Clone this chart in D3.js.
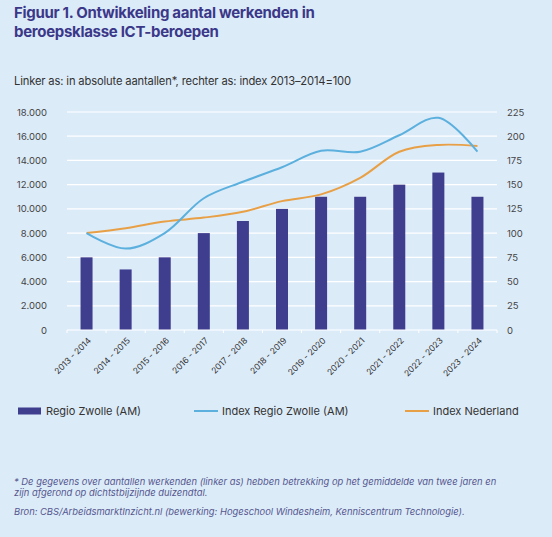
<!DOCTYPE html>
<html>
<head>
<meta charset="utf-8">
<script src="https://cdn.jsdelivr.net/npm/d3@7"></script>
<style>
  html, body { margin: 0; padding: 0; background: #dcebf8; }
  svg { display: block; font-family: "Inter", "Noto Sans", sans-serif; }
</style>
</head>
<body>
<div id="chart"></div>
<script>
// chart data
const periods = ["2013 - 2014", "2014 - 2015", "2015 - 2016", "2016 - 2017", "2017 - 2018",
  "2018 - 2019", "2019 - 2020", "2020 - 2021", "2021 - 2022", "2022 - 2023", "2023 - 2024"];
const werkenden = [6000, 5000, 6000, 8000, 9000, 10000, 11000, 11000, 12000, 13000, 11000];
const indexZwolle = [100, 84, 100, 136, 153, 168, 185, 184, 201, 219, 184];
const indexNederland = [100, 105, 112, 116, 122, 133, 140, 157, 184, 191, 190];
const leftTicks = [0, 2000, 4000, 6000, 8000, 10000, 12000, 14000, 16000, 18000];
const rightTicks = [0, 25, 50, 75, 100, 125, 150, 175, 200, 225];

const W = 552, H = 537;
const margin = { left: 67, right: 55, top: 112, bottom: 207 };
const plotW = W - margin.left - margin.right;
const plotH = H - margin.top - margin.bottom;

const barColor = "#3f3d8e";
const blueColor = "#5cb0de";
const orangeColor = "#e8a047";

const svg = d3.select("#chart").append("svg")
  .attr("width", W)
  .attr("height", H);

svg.append("rect").attr("width", W).attr("height", H).attr("fill", "#dcebf8");

// titles
const title = svg.append("text")
  .attr("x", 14).attr("y", 18)
  .style("font-size", "15px")
  .style("font-weight", "700")
  .style("letter-spacing", "-0.3px")
  .style("fill", "#3b3889");
title.append("tspan").attr("x", 14).text("Figuur 1. Ontwikkeling aantal werkenden in");
title.append("tspan").attr("x", 14).attr("dy", 19).text("beroepsklasse ICT-beroepen");

svg.append("text")
  .attr("x", 14).attr("y", 85)
  .style("font-size", "11.2px")
  .style("letter-spacing", "-0.15px")
  .style("fill", "#333")
  .text("Linker as: in absolute aantallen*, rechter as: index 2013–2014=100");

const g = svg.append("g").attr("transform", `translate(${margin.left},${margin.top})`);

// scales
const x = d3.scaleBand(periods, [0, plotW]).padding(0);
const yLeft = d3.scaleLinear([0, 18000], [plotH, 0]);
const yRight = d3.scaleLinear([0, 225], [plotH, 0]);

// grid lines
g.selectAll(".grid")
  .data(leftTicks.slice(1))
  .enter().append("line")
  .attr("x1", 0).attr("x2", plotW)
  .attr("y1", d => yLeft(d)).attr("y2", d => yLeft(d))
  .attr("stroke", "#ffffff")
  .attr("stroke-width", 1.2);

// left axis labels
const fmt = d => d3.format(",")(d).replace(/,/g, ".");
g.append("g")
  .call(d3.axisLeft(yLeft).tickValues(leftTicks).tickFormat(fmt).tickSize(0).tickPadding(20))
  .call(a => a.select(".domain").remove())
  .selectAll("text")
  .style("font-size", "9.5px")
  .style("fill", "#444")
  .style("font-family", "Inter, sans-serif");

// right axis labels
g.append("g")
  .attr("transform", `translate(${plotW},0)`)
  .call(d3.axisRight(yRight).tickValues(rightTicks).tickSize(0).tickPadding(10))
  .call(a => a.select(".domain").remove())
  .selectAll("text")
  .style("font-size", "9.5px")
  .style("fill", "#444")
  .style("font-family", "Inter, sans-serif");

// bars
const barW = 12;
g.selectAll(".bar")
  .data(werkenden)
  .enter().append("rect")
  .attr("class", "bar")
  .attr("x", (d, i) => x(periods[i]) + x.bandwidth() / 2 - barW / 2)
  .attr("y", d => yLeft(d))
  .attr("width", barW)
  .attr("height", d => plotH - yLeft(d))
  .attr("fill", barColor);

// x axis (white baseline with ticks at band boundaries)
g.append("line")
  .attr("x1", 0).attr("x2", plotW)
  .attr("y1", plotH).attr("y2", plotH)
  .attr("stroke", "#ffffff").attr("stroke-width", 1.2);
g.selectAll(".xtick")
  .data(d3.range(periods.length + 1))
  .enter().append("line")
  .attr("x1", i => i * x.step()).attr("x2", i => i * x.step())
  .attr("y1", plotH).attr("y2", plotH + 3)
  .attr("stroke", "#ffffff").attr("stroke-width", 1);

g.selectAll(".xlabel")
  .data(periods)
  .enter().append("text")
  .attr("transform", d => `translate(${x(d) + x.bandwidth() / 2 + 3},${plotH + 9}) rotate(-45)`)
  .attr("text-anchor", "end")
  .attr("dy", "0.35em")
  .style("font-size", "8.5px")
  .style("fill", "#333")
  .text(d => d);

// index lines
const line = d3.line()
  .x((d, i) => x(periods[i]) + x.bandwidth() / 2)
  .y(d => yRight(d))
  .curve(d3.curveCatmullRom.alpha(0.5));

g.append("path")
  .datum(indexNederland)
  .attr("d", line)
  .attr("fill", "none")
  .attr("stroke", orangeColor)
  .attr("stroke-width", 2);

g.append("path")
  .datum(indexZwolle)
  .attr("d", line)
  .attr("fill", "none")
  .attr("stroke", blueColor)
  .attr("stroke-width", 2);

// legend
const legY = 411;
const leg = svg.append("g");
leg.append("rect").attr("x", 18).attr("y", legY - 3.5).attr("width", 23).attr("height", 7).attr("fill", barColor);
leg.append("text").attr("x", 46).attr("y", legY).attr("dy", "0.35em")
  .style("font-size", "11px").style("fill", "#333").text("Regio Zwolle (AM)");
leg.append("line").attr("x1", 194).attr("x2", 218).attr("y1", legY).attr("y2", legY)
  .attr("stroke", blueColor).attr("stroke-width", 2);
leg.append("text").attr("x", 222).attr("y", legY).attr("dy", "0.35em")
  .style("font-size", "11px").style("fill", "#333").text("Index Regio Zwolle (AM)");
leg.append("line").attr("x1", 405).attr("x2", 429).attr("y1", legY).attr("y2", legY)
  .attr("stroke", orangeColor).attr("stroke-width", 2);
leg.append("text").attr("x", 433).attr("y", legY).attr("dy", "0.35em")
  .style("font-size", "11px").style("fill", "#333").text("Index Nederland");

// footnotes
const note = svg.append("g")
  .style("font-size", "9.4px")
  .style("font-style", "italic")
  .style("fill", "#55578f");
note.append("text").attr("x", 14).attr("y", 485)
  .text("* De gegevens over aantallen werkenden (linker as) hebben betrekking op het gemiddelde van twee jaren en");
note.append("text").attr("x", 14).attr("y", 495.5)
  .text("zijn afgerond op dichtstbijzijnde duizendtal.");
note.append("text").attr("x", 14).attr("y", 515)
  .text("Bron: CBS/ArbeidsmarktInzicht.nl (bewerking: Hogeschool Windesheim, Kenniscentrum Technologie).");
</script>
</body>
</html>
